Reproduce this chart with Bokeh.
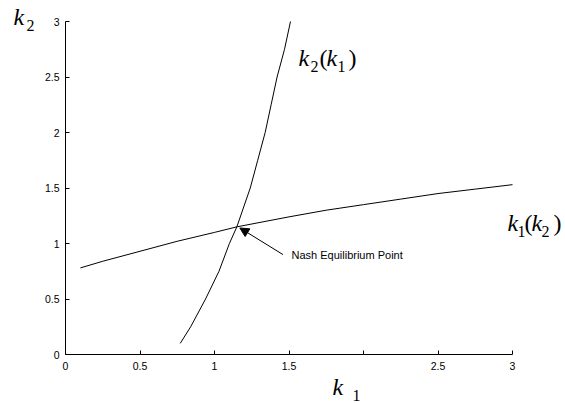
from bokeh.plotting import figure
from bokeh.models import Range1d, FixedTicker, Label, Arrow, NormalHead
from bokeh.embed import file_html
from bokeh.resources import INLINE

# Reaction curve k1(k2): k1 on the horizontal axis, k2 on the vertical axis
flat_k1 = [0.10, 0.25, 0.50, 0.75, 1.00, 1.15, 1.50, 1.75, 2.00, 2.25, 2.50, 2.75, 3.00]
flat_k2 = [0.78, 0.84, 0.93, 1.02, 1.10, 1.15, 1.24, 1.30, 1.35, 1.40, 1.45, 1.49, 1.53]

# Reaction curve k2(k1)
steep_k1 = [0.77, 0.84, 0.94, 1.03, 1.10, 1.15, 1.24, 1.29, 1.34, 1.38, 1.42, 1.47, 1.51]
steep_k2 = [0.10, 0.25, 0.50, 0.75, 1.00, 1.15, 1.50, 1.75, 2.00, 2.25, 2.50, 2.75, 3.00]

# Equilibrium (intersection of the two curves) and annotation tail
nash_point = (1.15, 1.15)
note_tail = (1.46, 0.90)

x_ticks = [0.0, 0.5, 1.0, 1.5, 2.0, 2.5, 3.0]
x_tick_labels = ["0", "0.5", "1", "1.5", "", "2.5", "3"]
y_ticks = [0.0, 0.5, 1.0, 1.5, 2.0, 2.5, 3.0]
y_tick_labels = ["0", "0.5", "1", "1.5", "2", "2.5", "3"]

W, H = 565, 403
LEFT, BOTTOM = 65, 49          # room for the two axes
PX_X, PX_Y = 149.0, 111.0      # pixels per unit along k1 and k2

# the frame reaches the top and right edges so the curve names fit inside it;
# the axes themselves are bounded to 0..3
x_max = (W - LEFT) / PX_X
y_max = (H - BOTTOM) / PX_Y

p = figure(width=W, height=H, output_backend="svg", toolbar_location=None,
           x_range=Range1d(0, x_max), y_range=Range1d(0, y_max),
           min_border_left=LEFT, min_border_right=0, min_border_top=0,
           min_border_bottom=BOTTOM)
p.grid.visible = False
p.outline_line_color = None
p.background_fill_color = "white"
p.border_fill_color = "white"

for ax, ticks, labels, standoff in ((p.xaxis[0], x_ticks, x_tick_labels, 7),
                                    (p.yaxis[0], y_ticks, y_tick_labels, 6)):
    ax.ticker = FixedTicker(ticks=ticks)
    ax.bounds = (ticks[0], ticks[-1])
    ax.major_label_overrides = {t: s for t, s in zip(ticks, labels)}
    ax.major_tick_in = 4
    ax.major_tick_out = 0
    ax.minor_tick_line_color = None
    ax.axis_line_color = "black"
    ax.major_tick_line_color = "black"
    ax.major_label_text_font = "Liberation Sans"
    ax.major_label_text_font_size = "10.5px"
    ax.major_label_text_color = "black"
    ax.major_label_standoff = standoff

p.line(flat_k1, flat_k2, line_color="black", line_width=1)
p.line(steep_k1, steep_k2, line_color="black", line_width=1)

p.add_layout(Arrow(x_start=note_tail[0], y_start=note_tail[1],
                   x_end=nash_point[0] + 0.02, y_end=nash_point[1] - 0.01,
                   line_color="black", line_width=1,
                   end=NormalHead(size=9, fill_color="black", line_color="black")))


def place(text, sx, sy, size, font="Liberation Serif", italic=False, side=None):
    """Put text with its left end / baseline at canvas pixel (sx, sy)."""
    lab = Label(x=(sx - LEFT) / PX_X, y=(H - BOTTOM - sy) / PX_Y,
                y_offset=0.4 * size,  # lift from the glyph bottom to the baseline
                text=text, text_font=font,
                text_font_style="italic" if italic else "normal",
                text_font_size=f"{size}px", text_color="black",
                text_baseline="alphabetic", text_align="left")
    if side is None:
        p.add_layout(lab)
    else:
        p.add_layout(lab, side)


def math_run(parts, sy, side=None):
    """parts: (text, left x, italic, subscript)."""
    for text, sx, italic, sub in parts:
        place(text, sx, sy + (5 if sub else 0), 16 if sub else 24,
              italic=italic, side=side)


place("Nash Equilibrium Point", 291, 259, 11, font="Liberation Sans")

# axis titles (kept in the left panel so they are drawn outside the frame)
math_run([("k", 13, True, False), ("2", 26, False, True)], 26, side="left")
math_run([("k", 332, True, False), ("1", 352, False, True)], 396, side="left")

# curve names
math_run([("k", 298, True, False), ("2", 310, False, True), ("(", 319, False, False),
          ("k", 326, True, False), ("1", 337, False, True), (")", 348, False, False)], 67)
math_run([("k", 507, True, False), ("1", 517, False, True), ("(", 524, False, False),
          ("k", 531, True, False), ("2", 541, False, True), (")", 553, False, False)], 232)

open("out.html", "w").write(file_html(p, INLINE))
